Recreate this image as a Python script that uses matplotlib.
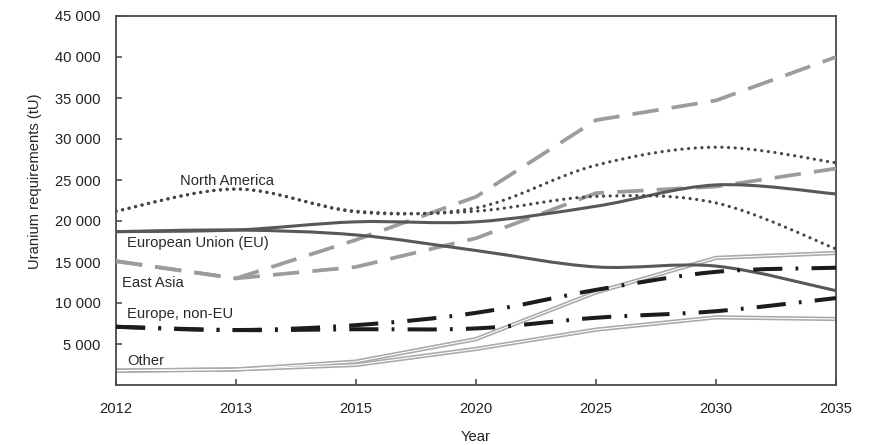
import numpy as np
import matplotlib
matplotlib.use('Agg')
import matplotlib.pyplot as plt
from matplotlib.path import Path
from matplotlib.patches import PathPatch

# ---------------- data ----------------
years = ['2012', '2013', '2015', '2020', '2025', '2030', '2035']

na_high = [21200, 23900, 21200, 21600, 26800, 29000, 27100]
na_low = [21200, 23900, 21100, 21200, 23000, 22200, 16600]

eu_high = [18700, 18900, 19900, 19900, 21800, 24400, 23300]
eu_low = [18700, 18900, 18300, 16400, 14400, 14500, 11500]

ea_high = [15100, 13000, 17700, 22950, 32300, 34700, 40000]
ea_low = [15100, 13000, 14400, 17900, 23400, 24200, 26400]

eur_high = [7100, 6700, 7300, 8800, 11600, 13800, 14300]
eur_low = [7100, 6700, 6800, 6900, 8200, 9000, 10600]

oth_high = [1750, 1900, 2850, 5600, 11300, 15500, 16100]
oth_low = [1750, 1900, 2450, 4400, 6750, 8250, 8050]

region_labels = ['North America', 'European Union (EU)', 'East Asia',
                 'Europe, non-EU', 'Other']
label_x = [0.53, 0.09, 0.05, 0.09, 0.09]
label_y = [24900, 17300, 12450, 8650, 2950]

yticks = [5000, 10000, 15000, 20000, 25000, 30000, 35000, 40000, 45000]
ytick_labels = ['5 000', '10 000', '15 000', '20 000', '25 000',
                '30 000', '35 000', '40 000', '45 000']

# ---------------- style ----------------
plt.rcParams['font.family'] = ['Liberation Sans', 'DejaVu Sans']
plt.rcParams['font.size'] = 10.6
plt.rcParams['lines.scale_dashes'] = False

fig = plt.figure(figsize=(8.71, 4.45), dpi=100)
ax = fig.add_axes([116 / 871, 60 / 445, 720 / 871, 369 / 445])

xpos = np.arange(len(years))


def smooth_path(xs, ys):
    pts = np.column_stack([np.asarray(xs, float), np.asarray(ys, float)])
    n = len(pts)
    verts = [pts[0]]
    codes = [Path.MOVETO]
    for i in range(n - 1):
        p0 = pts[i - 1] if i > 0 else pts[i]
        p1 = pts[i]
        p2 = pts[i + 1]
        p3 = pts[i + 2] if i + 2 < n else pts[i + 1]
        c1 = p1 + (p2 - p0) / 6.0
        c2 = p2 - (p3 - p1) / 6.0
        verts += [c1, c2, p2]
        codes += [Path.CURVE4] * 3
    return Path(verts, codes)


def smooth_line(ys, color, lw, ls, cap='butt', z=2):
    patch = PathPatch(smooth_path(xpos, ys), fill=False, edgecolor=color,
                      linewidth=lw, linestyle=ls, capstyle=cap, zorder=z)
    ax.add_patch(patch)


# Other (double line, straight segments)
for ys in (oth_high, oth_low):
    ax.plot(xpos, ys, color='#a9a9a9', lw=3.1, solid_capstyle='butt',
            solid_joinstyle='miter', zorder=2)
    ax.plot(xpos, ys, color='white', lw=0.8, solid_capstyle='butt',
            solid_joinstyle='miter', zorder=2.1)

# East Asia (dashed light gray, straight segments)
for ys in (ea_high, ea_low):
    ax.plot(xpos, ys, color='#9c9c9c', lw=2.7, linestyle=(0, (19, 9.5)),
            dash_capstyle='butt', dash_joinstyle='miter', zorder=3)

# European Union (solid dark gray)
for ys in (eu_high, eu_low):
    smooth_line(ys, '#585858', 2.2, '-', z=4)

# Europe, non-EU (dash-dot black)
for ys in (eur_high, eur_low):
    smooth_line(ys, '#1c1c1c', 2.9, (0, (21, 9.5, 2, 9.5)), z=5)

# North America (dotted)
for ys in (na_high, na_low):
    smooth_line(ys, '#474747', 2.3, (0, (0.1, 4.7)), cap='round', z=6)

for t, lx, ly in zip(region_labels, label_x, label_y):
    ax.text(lx, ly, t, ha='left', va='center', color='#2a2a2a', fontsize=10.6)

# ---------------- axes ----------------
ax.set_xlim(0, len(years) - 1)
ax.set_ylim(0, 45000)
ax.set_xticks(xpos)
ax.set_xticklabels(years)
ax.set_yticks(yticks)
ax.set_yticklabels(ytick_labels)

ax.tick_params(axis='x', direction='in', length=4, width=1.1, color='#444444',
               pad=12.5, labelcolor='#222222', labelsize=10.6)
ax.tick_params(axis='y', direction='in', length=4, width=1.1, color='#444444',
               pad=11, labelcolor='#222222', labelsize=10.6)

for s in ax.spines.values():
    s.set_color('#4a4a4a')
    s.set_linewidth(1.3)

ax.set_ylabel('Uranium requirements (tU)', color='#222222', fontsize=10.6)
ax.yaxis.label.set_va('center')
ax.yaxis.set_label_coords(-0.113, 0.553)
ax.set_xlabel('Year', color='#222222', fontsize=10.6)
ax.xaxis.label.set_va('center')
ax.xaxis.set_label_coords(0.5, -0.141)

fig.savefig('out.png', dpi=100)
